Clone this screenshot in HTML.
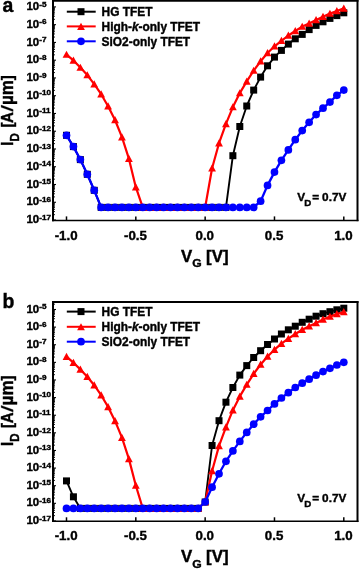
<!DOCTYPE html>
<html><head><meta charset="utf-8"><title>TFET transfer characteristics</title>
<style>
html,body{margin:0;padding:0;background:#fff;}
body{width:359px;height:569px;overflow:hidden;}
svg{display:block;will-change:transform;}
.b{font-family:"Liberation Sans",sans-serif;font-weight:bold;fill:#000;stroke:#000;stroke-width:0.4px;}
</style></head><body>
<svg width="359" height="569" viewBox="0 0 359 569">
<g>
<line x1="53.00" y1="0.00" x2="53.00" y2="221.15" stroke="#000" stroke-width="2"/>
<line x1="357.50" y1="0.00" x2="357.50" y2="221.15" stroke="#000" stroke-width="2"/>
<line x1="52.00" y1="0.90" x2="358.50" y2="0.90" stroke="#000" stroke-width="1.8"/>
<line x1="52.00" y1="220.40" x2="358.50" y2="220.40" stroke="#000" stroke-width="1.5"/>
<line x1="53.00" y1="6.90" x2="56.00" y2="6.90" stroke="#000" stroke-width="1.1"/>
<text transform="translate(26.5,10.00) scale(1.07,1)" font-size="10.7" class="b">10<tspan font-size="7.6" dy="-3.4">-5</tspan></text>
<line x1="53.00" y1="24.66" x2="56.00" y2="24.66" stroke="#000" stroke-width="1.1"/>
<text transform="translate(26.5,27.76) scale(1.07,1)" font-size="10.7" class="b">10<tspan font-size="7.6" dy="-3.4">-6</tspan></text>
<line x1="53.00" y1="19.31" x2="55.00" y2="19.31" stroke="#000" stroke-width="0.9"/>
<line x1="53.00" y1="16.19" x2="55.00" y2="16.19" stroke="#000" stroke-width="0.9"/>
<line x1="53.00" y1="13.97" x2="55.00" y2="13.97" stroke="#000" stroke-width="0.9"/>
<line x1="53.00" y1="12.25" x2="55.00" y2="12.25" stroke="#000" stroke-width="0.9"/>
<line x1="53.00" y1="10.84" x2="55.00" y2="10.84" stroke="#000" stroke-width="0.9"/>
<line x1="53.00" y1="9.65" x2="55.00" y2="9.65" stroke="#000" stroke-width="0.9"/>
<line x1="53.00" y1="8.62" x2="55.00" y2="8.62" stroke="#000" stroke-width="0.9"/>
<line x1="53.00" y1="7.71" x2="55.00" y2="7.71" stroke="#000" stroke-width="0.9"/>
<line x1="53.00" y1="42.42" x2="56.00" y2="42.42" stroke="#000" stroke-width="1.1"/>
<text transform="translate(26.5,45.52) scale(1.07,1)" font-size="10.7" class="b">10<tspan font-size="7.6" dy="-3.4">-7</tspan></text>
<line x1="53.00" y1="37.07" x2="55.00" y2="37.07" stroke="#000" stroke-width="0.9"/>
<line x1="53.00" y1="33.95" x2="55.00" y2="33.95" stroke="#000" stroke-width="0.9"/>
<line x1="53.00" y1="31.73" x2="55.00" y2="31.73" stroke="#000" stroke-width="0.9"/>
<line x1="53.00" y1="30.01" x2="55.00" y2="30.01" stroke="#000" stroke-width="0.9"/>
<line x1="53.00" y1="28.60" x2="55.00" y2="28.60" stroke="#000" stroke-width="0.9"/>
<line x1="53.00" y1="27.41" x2="55.00" y2="27.41" stroke="#000" stroke-width="0.9"/>
<line x1="53.00" y1="26.38" x2="55.00" y2="26.38" stroke="#000" stroke-width="0.9"/>
<line x1="53.00" y1="25.47" x2="55.00" y2="25.47" stroke="#000" stroke-width="0.9"/>
<line x1="53.00" y1="60.18" x2="56.00" y2="60.18" stroke="#000" stroke-width="1.1"/>
<text transform="translate(26.5,63.28) scale(1.07,1)" font-size="10.7" class="b">10<tspan font-size="7.6" dy="-3.4">-8</tspan></text>
<line x1="53.00" y1="54.83" x2="55.00" y2="54.83" stroke="#000" stroke-width="0.9"/>
<line x1="53.00" y1="51.71" x2="55.00" y2="51.71" stroke="#000" stroke-width="0.9"/>
<line x1="53.00" y1="49.49" x2="55.00" y2="49.49" stroke="#000" stroke-width="0.9"/>
<line x1="53.00" y1="47.77" x2="55.00" y2="47.77" stroke="#000" stroke-width="0.9"/>
<line x1="53.00" y1="46.36" x2="55.00" y2="46.36" stroke="#000" stroke-width="0.9"/>
<line x1="53.00" y1="45.17" x2="55.00" y2="45.17" stroke="#000" stroke-width="0.9"/>
<line x1="53.00" y1="44.14" x2="55.00" y2="44.14" stroke="#000" stroke-width="0.9"/>
<line x1="53.00" y1="43.23" x2="55.00" y2="43.23" stroke="#000" stroke-width="0.9"/>
<line x1="53.00" y1="77.94" x2="56.00" y2="77.94" stroke="#000" stroke-width="1.1"/>
<text transform="translate(26.5,81.04) scale(1.07,1)" font-size="10.7" class="b">10<tspan font-size="7.6" dy="-3.4">-9</tspan></text>
<line x1="53.00" y1="72.59" x2="55.00" y2="72.59" stroke="#000" stroke-width="0.9"/>
<line x1="53.00" y1="69.47" x2="55.00" y2="69.47" stroke="#000" stroke-width="0.9"/>
<line x1="53.00" y1="67.25" x2="55.00" y2="67.25" stroke="#000" stroke-width="0.9"/>
<line x1="53.00" y1="65.53" x2="55.00" y2="65.53" stroke="#000" stroke-width="0.9"/>
<line x1="53.00" y1="64.12" x2="55.00" y2="64.12" stroke="#000" stroke-width="0.9"/>
<line x1="53.00" y1="62.93" x2="55.00" y2="62.93" stroke="#000" stroke-width="0.9"/>
<line x1="53.00" y1="61.90" x2="55.00" y2="61.90" stroke="#000" stroke-width="0.9"/>
<line x1="53.00" y1="60.99" x2="55.00" y2="60.99" stroke="#000" stroke-width="0.9"/>
<line x1="53.00" y1="95.70" x2="56.00" y2="95.70" stroke="#000" stroke-width="1.1"/>
<text transform="translate(26.5,98.80) scale(1.07,1)" font-size="10.7" class="b">10<tspan font-size="7.6" dy="-3.4">-10</tspan></text>
<line x1="53.00" y1="90.35" x2="55.00" y2="90.35" stroke="#000" stroke-width="0.9"/>
<line x1="53.00" y1="87.23" x2="55.00" y2="87.23" stroke="#000" stroke-width="0.9"/>
<line x1="53.00" y1="85.01" x2="55.00" y2="85.01" stroke="#000" stroke-width="0.9"/>
<line x1="53.00" y1="83.29" x2="55.00" y2="83.29" stroke="#000" stroke-width="0.9"/>
<line x1="53.00" y1="81.88" x2="55.00" y2="81.88" stroke="#000" stroke-width="0.9"/>
<line x1="53.00" y1="80.69" x2="55.00" y2="80.69" stroke="#000" stroke-width="0.9"/>
<line x1="53.00" y1="79.66" x2="55.00" y2="79.66" stroke="#000" stroke-width="0.9"/>
<line x1="53.00" y1="78.75" x2="55.00" y2="78.75" stroke="#000" stroke-width="0.9"/>
<line x1="53.00" y1="113.46" x2="56.00" y2="113.46" stroke="#000" stroke-width="1.1"/>
<text transform="translate(26.5,116.56) scale(1.07,1)" font-size="10.7" class="b">10<tspan font-size="7.6" dy="-3.4">-11</tspan></text>
<line x1="53.00" y1="108.11" x2="55.00" y2="108.11" stroke="#000" stroke-width="0.9"/>
<line x1="53.00" y1="104.99" x2="55.00" y2="104.99" stroke="#000" stroke-width="0.9"/>
<line x1="53.00" y1="102.77" x2="55.00" y2="102.77" stroke="#000" stroke-width="0.9"/>
<line x1="53.00" y1="101.05" x2="55.00" y2="101.05" stroke="#000" stroke-width="0.9"/>
<line x1="53.00" y1="99.64" x2="55.00" y2="99.64" stroke="#000" stroke-width="0.9"/>
<line x1="53.00" y1="98.45" x2="55.00" y2="98.45" stroke="#000" stroke-width="0.9"/>
<line x1="53.00" y1="97.42" x2="55.00" y2="97.42" stroke="#000" stroke-width="0.9"/>
<line x1="53.00" y1="96.51" x2="55.00" y2="96.51" stroke="#000" stroke-width="0.9"/>
<line x1="53.00" y1="131.22" x2="56.00" y2="131.22" stroke="#000" stroke-width="1.1"/>
<text transform="translate(26.5,134.32) scale(1.07,1)" font-size="10.7" class="b">10<tspan font-size="7.6" dy="-3.4">-12</tspan></text>
<line x1="53.00" y1="125.87" x2="55.00" y2="125.87" stroke="#000" stroke-width="0.9"/>
<line x1="53.00" y1="122.75" x2="55.00" y2="122.75" stroke="#000" stroke-width="0.9"/>
<line x1="53.00" y1="120.53" x2="55.00" y2="120.53" stroke="#000" stroke-width="0.9"/>
<line x1="53.00" y1="118.81" x2="55.00" y2="118.81" stroke="#000" stroke-width="0.9"/>
<line x1="53.00" y1="117.40" x2="55.00" y2="117.40" stroke="#000" stroke-width="0.9"/>
<line x1="53.00" y1="116.21" x2="55.00" y2="116.21" stroke="#000" stroke-width="0.9"/>
<line x1="53.00" y1="115.18" x2="55.00" y2="115.18" stroke="#000" stroke-width="0.9"/>
<line x1="53.00" y1="114.27" x2="55.00" y2="114.27" stroke="#000" stroke-width="0.9"/>
<line x1="53.00" y1="148.98" x2="56.00" y2="148.98" stroke="#000" stroke-width="1.1"/>
<text transform="translate(26.5,152.08) scale(1.07,1)" font-size="10.7" class="b">10<tspan font-size="7.6" dy="-3.4">-13</tspan></text>
<line x1="53.00" y1="143.63" x2="55.00" y2="143.63" stroke="#000" stroke-width="0.9"/>
<line x1="53.00" y1="140.51" x2="55.00" y2="140.51" stroke="#000" stroke-width="0.9"/>
<line x1="53.00" y1="138.29" x2="55.00" y2="138.29" stroke="#000" stroke-width="0.9"/>
<line x1="53.00" y1="136.57" x2="55.00" y2="136.57" stroke="#000" stroke-width="0.9"/>
<line x1="53.00" y1="135.16" x2="55.00" y2="135.16" stroke="#000" stroke-width="0.9"/>
<line x1="53.00" y1="133.97" x2="55.00" y2="133.97" stroke="#000" stroke-width="0.9"/>
<line x1="53.00" y1="132.94" x2="55.00" y2="132.94" stroke="#000" stroke-width="0.9"/>
<line x1="53.00" y1="132.03" x2="55.00" y2="132.03" stroke="#000" stroke-width="0.9"/>
<line x1="53.00" y1="166.74" x2="56.00" y2="166.74" stroke="#000" stroke-width="1.1"/>
<text transform="translate(26.5,169.84) scale(1.07,1)" font-size="10.7" class="b">10<tspan font-size="7.6" dy="-3.4">-14</tspan></text>
<line x1="53.00" y1="161.39" x2="55.00" y2="161.39" stroke="#000" stroke-width="0.9"/>
<line x1="53.00" y1="158.27" x2="55.00" y2="158.27" stroke="#000" stroke-width="0.9"/>
<line x1="53.00" y1="156.05" x2="55.00" y2="156.05" stroke="#000" stroke-width="0.9"/>
<line x1="53.00" y1="154.33" x2="55.00" y2="154.33" stroke="#000" stroke-width="0.9"/>
<line x1="53.00" y1="152.92" x2="55.00" y2="152.92" stroke="#000" stroke-width="0.9"/>
<line x1="53.00" y1="151.73" x2="55.00" y2="151.73" stroke="#000" stroke-width="0.9"/>
<line x1="53.00" y1="150.70" x2="55.00" y2="150.70" stroke="#000" stroke-width="0.9"/>
<line x1="53.00" y1="149.79" x2="55.00" y2="149.79" stroke="#000" stroke-width="0.9"/>
<line x1="53.00" y1="184.50" x2="56.00" y2="184.50" stroke="#000" stroke-width="1.1"/>
<text transform="translate(26.5,187.60) scale(1.07,1)" font-size="10.7" class="b">10<tspan font-size="7.6" dy="-3.4">-15</tspan></text>
<line x1="53.00" y1="179.15" x2="55.00" y2="179.15" stroke="#000" stroke-width="0.9"/>
<line x1="53.00" y1="176.03" x2="55.00" y2="176.03" stroke="#000" stroke-width="0.9"/>
<line x1="53.00" y1="173.81" x2="55.00" y2="173.81" stroke="#000" stroke-width="0.9"/>
<line x1="53.00" y1="172.09" x2="55.00" y2="172.09" stroke="#000" stroke-width="0.9"/>
<line x1="53.00" y1="170.68" x2="55.00" y2="170.68" stroke="#000" stroke-width="0.9"/>
<line x1="53.00" y1="169.49" x2="55.00" y2="169.49" stroke="#000" stroke-width="0.9"/>
<line x1="53.00" y1="168.46" x2="55.00" y2="168.46" stroke="#000" stroke-width="0.9"/>
<line x1="53.00" y1="167.55" x2="55.00" y2="167.55" stroke="#000" stroke-width="0.9"/>
<line x1="53.00" y1="202.26" x2="56.00" y2="202.26" stroke="#000" stroke-width="1.1"/>
<text transform="translate(26.5,205.36) scale(1.07,1)" font-size="10.7" class="b">10<tspan font-size="7.6" dy="-3.4">-16</tspan></text>
<line x1="53.00" y1="196.91" x2="55.00" y2="196.91" stroke="#000" stroke-width="0.9"/>
<line x1="53.00" y1="193.79" x2="55.00" y2="193.79" stroke="#000" stroke-width="0.9"/>
<line x1="53.00" y1="191.57" x2="55.00" y2="191.57" stroke="#000" stroke-width="0.9"/>
<line x1="53.00" y1="189.85" x2="55.00" y2="189.85" stroke="#000" stroke-width="0.9"/>
<line x1="53.00" y1="188.44" x2="55.00" y2="188.44" stroke="#000" stroke-width="0.9"/>
<line x1="53.00" y1="187.25" x2="55.00" y2="187.25" stroke="#000" stroke-width="0.9"/>
<line x1="53.00" y1="186.22" x2="55.00" y2="186.22" stroke="#000" stroke-width="0.9"/>
<line x1="53.00" y1="185.31" x2="55.00" y2="185.31" stroke="#000" stroke-width="0.9"/>
<line x1="53.00" y1="220.02" x2="56.00" y2="220.02" stroke="#000" stroke-width="1.1"/>
<text transform="translate(26.5,223.12) scale(1.07,1)" font-size="10.7" class="b">10<tspan font-size="7.6" dy="-3.4">-17</tspan></text>
<line x1="53.00" y1="214.67" x2="55.00" y2="214.67" stroke="#000" stroke-width="0.9"/>
<line x1="53.00" y1="211.55" x2="55.00" y2="211.55" stroke="#000" stroke-width="0.9"/>
<line x1="53.00" y1="209.33" x2="55.00" y2="209.33" stroke="#000" stroke-width="0.9"/>
<line x1="53.00" y1="207.61" x2="55.00" y2="207.61" stroke="#000" stroke-width="0.9"/>
<line x1="53.00" y1="206.20" x2="55.00" y2="206.20" stroke="#000" stroke-width="0.9"/>
<line x1="53.00" y1="205.01" x2="55.00" y2="205.01" stroke="#000" stroke-width="0.9"/>
<line x1="53.00" y1="203.98" x2="55.00" y2="203.98" stroke="#000" stroke-width="0.9"/>
<line x1="53.00" y1="203.07" x2="55.00" y2="203.07" stroke="#000" stroke-width="0.9"/>
<line x1="66.50" y1="220.40" x2="66.50" y2="216.40" stroke="#000" stroke-width="1.5"/>
<text x="66.10" y="239.50" font-size="13.3" class="b" text-anchor="middle">-1.0</text>
<line x1="135.82" y1="220.40" x2="135.82" y2="216.40" stroke="#000" stroke-width="1.5"/>
<text x="135.42" y="239.50" font-size="13.3" class="b" text-anchor="middle">-0.5</text>
<line x1="205.15" y1="220.40" x2="205.15" y2="216.40" stroke="#000" stroke-width="1.5"/>
<text x="204.75" y="239.50" font-size="13.3" class="b" text-anchor="middle">0.0</text>
<line x1="274.48" y1="220.40" x2="274.48" y2="216.40" stroke="#000" stroke-width="1.5"/>
<text x="274.08" y="239.50" font-size="13.3" class="b" text-anchor="middle">0.5</text>
<line x1="343.80" y1="220.40" x2="343.80" y2="216.40" stroke="#000" stroke-width="1.5"/>
<text x="343.40" y="239.50" font-size="13.3" class="b" text-anchor="middle">1.0</text>
<polyline fill="none" stroke="#000000" stroke-width="1.90" stroke-linejoin="round" points="66.50,135.30 73.43,146.60 80.36,159.60 87.30,174.30 94.23,190.30 101.16,207.40 108.09,207.40 115.03,207.40 121.96,207.40 128.89,207.40 135.82,207.40 142.76,207.40 149.69,207.40 156.62,207.40 163.56,207.40 170.49,207.40 177.42,207.40 184.35,207.40 191.29,207.40 198.22,207.40 205.15,207.40 212.08,207.40 219.02,207.40 225.95,207.40 232.88,155.70 239.81,126.50 246.75,106.00 253.68,90.10 260.61,77.10 267.54,65.80 274.48,57.10 281.41,50.40 288.34,44.10 295.27,38.80 302.21,34.40 309.14,29.60 316.07,25.40 323.00,21.80 329.94,18.40 336.87,15.60 343.80,12.80"/>
<rect x="63.00" y="131.80" width="7.00" height="7.00" fill="#000000"/>
<rect x="69.93" y="143.10" width="7.00" height="7.00" fill="#000000"/>
<rect x="76.86" y="156.10" width="7.00" height="7.00" fill="#000000"/>
<rect x="83.80" y="170.80" width="7.00" height="7.00" fill="#000000"/>
<rect x="90.73" y="186.80" width="7.00" height="7.00" fill="#000000"/>
<rect x="97.66" y="203.90" width="7.00" height="7.00" fill="#000000"/>
<rect x="104.59" y="203.90" width="7.00" height="7.00" fill="#000000"/>
<rect x="111.53" y="203.90" width="7.00" height="7.00" fill="#000000"/>
<rect x="118.46" y="203.90" width="7.00" height="7.00" fill="#000000"/>
<rect x="125.39" y="203.90" width="7.00" height="7.00" fill="#000000"/>
<rect x="132.32" y="203.90" width="7.00" height="7.00" fill="#000000"/>
<rect x="139.26" y="203.90" width="7.00" height="7.00" fill="#000000"/>
<rect x="146.19" y="203.90" width="7.00" height="7.00" fill="#000000"/>
<rect x="153.12" y="203.90" width="7.00" height="7.00" fill="#000000"/>
<rect x="160.06" y="203.90" width="7.00" height="7.00" fill="#000000"/>
<rect x="166.99" y="203.90" width="7.00" height="7.00" fill="#000000"/>
<rect x="173.92" y="203.90" width="7.00" height="7.00" fill="#000000"/>
<rect x="180.85" y="203.90" width="7.00" height="7.00" fill="#000000"/>
<rect x="187.79" y="203.90" width="7.00" height="7.00" fill="#000000"/>
<rect x="194.72" y="203.90" width="7.00" height="7.00" fill="#000000"/>
<rect x="201.65" y="203.90" width="7.00" height="7.00" fill="#000000"/>
<rect x="208.58" y="203.90" width="7.00" height="7.00" fill="#000000"/>
<rect x="215.52" y="203.90" width="7.00" height="7.00" fill="#000000"/>
<rect x="222.45" y="203.90" width="7.00" height="7.00" fill="#000000"/>
<rect x="229.38" y="152.20" width="7.00" height="7.00" fill="#000000"/>
<rect x="236.31" y="123.00" width="7.00" height="7.00" fill="#000000"/>
<rect x="243.25" y="102.50" width="7.00" height="7.00" fill="#000000"/>
<rect x="250.18" y="86.60" width="7.00" height="7.00" fill="#000000"/>
<rect x="257.11" y="73.60" width="7.00" height="7.00" fill="#000000"/>
<rect x="264.04" y="62.30" width="7.00" height="7.00" fill="#000000"/>
<rect x="270.98" y="53.60" width="7.00" height="7.00" fill="#000000"/>
<rect x="277.91" y="46.90" width="7.00" height="7.00" fill="#000000"/>
<rect x="284.84" y="40.60" width="7.00" height="7.00" fill="#000000"/>
<rect x="291.77" y="35.30" width="7.00" height="7.00" fill="#000000"/>
<rect x="298.71" y="30.90" width="7.00" height="7.00" fill="#000000"/>
<rect x="305.64" y="26.10" width="7.00" height="7.00" fill="#000000"/>
<rect x="312.57" y="21.90" width="7.00" height="7.00" fill="#000000"/>
<rect x="319.50" y="18.30" width="7.00" height="7.00" fill="#000000"/>
<rect x="326.44" y="14.90" width="7.00" height="7.00" fill="#000000"/>
<rect x="333.37" y="12.10" width="7.00" height="7.00" fill="#000000"/>
<rect x="340.30" y="9.30" width="7.00" height="7.00" fill="#000000"/>
<polyline fill="none" stroke="#ff0000" stroke-width="2.20" stroke-linejoin="round" points="66.50,54.60 73.43,60.40 80.36,67.60 87.30,75.10 94.23,84.20 101.16,94.20 108.09,106.30 115.03,120.00 121.96,137.20 128.89,158.70 135.82,187.20 142.76,207.40 149.69,207.40 156.62,207.40 163.56,207.40 170.49,207.40 177.42,207.40 184.35,207.40 191.29,207.40 198.22,207.40 205.15,207.40 212.08,168.20 219.02,143.20 225.95,123.90 232.88,107.10 239.81,93.10 246.75,81.40 253.68,70.60 260.61,61.30 267.54,53.00 274.48,46.30 281.41,40.80 288.34,35.50 295.27,31.00 302.21,26.60 309.14,23.40 316.07,19.90 323.00,16.80 329.94,13.60 336.87,11.00 343.80,8.40"/>
<polygon points="66.50,50.64 62.60,57.84 70.40,57.84" fill="#ff0000"/>
<polygon points="73.43,56.44 69.53,63.64 77.33,63.64" fill="#ff0000"/>
<polygon points="80.36,63.64 76.46,70.84 84.26,70.84" fill="#ff0000"/>
<polygon points="87.30,71.14 83.40,78.34 91.20,78.34" fill="#ff0000"/>
<polygon points="94.23,80.24 90.33,87.44 98.13,87.44" fill="#ff0000"/>
<polygon points="101.16,90.24 97.26,97.44 105.06,97.44" fill="#ff0000"/>
<polygon points="108.09,102.34 104.19,109.54 111.99,109.54" fill="#ff0000"/>
<polygon points="115.03,116.04 111.13,123.24 118.93,123.24" fill="#ff0000"/>
<polygon points="121.96,133.24 118.06,140.44 125.86,140.44" fill="#ff0000"/>
<polygon points="128.89,154.74 124.99,161.94 132.79,161.94" fill="#ff0000"/>
<polygon points="135.82,183.24 131.92,190.44 139.72,190.44" fill="#ff0000"/>
<polygon points="142.76,203.44 138.86,210.64 146.66,210.64" fill="#ff0000"/>
<polygon points="149.69,203.44 145.79,210.64 153.59,210.64" fill="#ff0000"/>
<polygon points="156.62,203.44 152.72,210.64 160.52,210.64" fill="#ff0000"/>
<polygon points="163.56,203.44 159.66,210.64 167.46,210.64" fill="#ff0000"/>
<polygon points="170.49,203.44 166.59,210.64 174.39,210.64" fill="#ff0000"/>
<polygon points="177.42,203.44 173.52,210.64 181.32,210.64" fill="#ff0000"/>
<polygon points="184.35,203.44 180.45,210.64 188.25,210.64" fill="#ff0000"/>
<polygon points="191.29,203.44 187.39,210.64 195.19,210.64" fill="#ff0000"/>
<polygon points="198.22,203.44 194.32,210.64 202.12,210.64" fill="#ff0000"/>
<polygon points="205.15,203.44 201.25,210.64 209.05,210.64" fill="#ff0000"/>
<polygon points="212.08,164.24 208.18,171.44 215.98,171.44" fill="#ff0000"/>
<polygon points="219.02,139.24 215.12,146.44 222.92,146.44" fill="#ff0000"/>
<polygon points="225.95,119.94 222.05,127.14 229.85,127.14" fill="#ff0000"/>
<polygon points="232.88,103.14 228.98,110.34 236.78,110.34" fill="#ff0000"/>
<polygon points="239.81,89.14 235.91,96.34 243.71,96.34" fill="#ff0000"/>
<polygon points="246.75,77.44 242.85,84.64 250.65,84.64" fill="#ff0000"/>
<polygon points="253.68,66.64 249.78,73.84 257.58,73.84" fill="#ff0000"/>
<polygon points="260.61,57.34 256.71,64.54 264.51,64.54" fill="#ff0000"/>
<polygon points="267.54,49.04 263.64,56.24 271.44,56.24" fill="#ff0000"/>
<polygon points="274.48,42.34 270.58,49.54 278.38,49.54" fill="#ff0000"/>
<polygon points="281.41,36.84 277.51,44.04 285.31,44.04" fill="#ff0000"/>
<polygon points="288.34,31.54 284.44,38.74 292.24,38.74" fill="#ff0000"/>
<polygon points="295.27,27.04 291.37,34.24 299.17,34.24" fill="#ff0000"/>
<polygon points="302.21,22.64 298.31,29.84 306.11,29.84" fill="#ff0000"/>
<polygon points="309.14,19.44 305.24,26.64 313.04,26.64" fill="#ff0000"/>
<polygon points="316.07,15.94 312.17,23.14 319.97,23.14" fill="#ff0000"/>
<polygon points="323.00,12.84 319.10,20.04 326.90,20.04" fill="#ff0000"/>
<polygon points="329.94,9.64 326.04,16.84 333.84,16.84" fill="#ff0000"/>
<polygon points="336.87,7.04 332.97,14.24 340.77,14.24" fill="#ff0000"/>
<polygon points="343.80,4.44 339.90,11.64 347.70,11.64" fill="#ff0000"/>
<polyline fill="none" stroke="#0000ff" stroke-width="2.30" stroke-linejoin="round" points="66.50,135.30 73.43,146.60 80.36,159.60 87.30,174.30 94.23,190.30 101.16,207.40 108.09,207.40 115.03,207.40 121.96,207.40 128.89,207.40 135.82,207.40 142.76,207.40 149.69,207.40 156.62,207.40 163.56,207.40 170.49,207.40 177.42,207.40 184.35,207.40 191.29,207.40 198.22,207.40 205.15,207.40 212.08,207.40 219.02,207.40 225.95,207.40 232.88,207.40 239.81,207.40 246.75,207.40 253.68,207.40 260.61,201.20 267.54,185.40 274.48,172.10 281.41,160.30 288.34,149.90 295.27,139.70 302.21,130.60 309.14,122.30 316.07,114.60 323.00,108.20 329.94,102.10 336.87,95.30 343.80,90.10"/>
<circle cx="66.50" cy="135.30" r="3.85" fill="#0000ff"/>
<circle cx="73.43" cy="146.60" r="3.85" fill="#0000ff"/>
<circle cx="80.36" cy="159.60" r="3.85" fill="#0000ff"/>
<circle cx="87.30" cy="174.30" r="3.85" fill="#0000ff"/>
<circle cx="94.23" cy="190.30" r="3.85" fill="#0000ff"/>
<circle cx="101.16" cy="207.40" r="3.85" fill="#0000ff"/>
<circle cx="108.09" cy="207.40" r="3.85" fill="#0000ff"/>
<circle cx="115.03" cy="207.40" r="3.85" fill="#0000ff"/>
<circle cx="121.96" cy="207.40" r="3.85" fill="#0000ff"/>
<circle cx="128.89" cy="207.40" r="3.85" fill="#0000ff"/>
<circle cx="135.82" cy="207.40" r="3.85" fill="#0000ff"/>
<circle cx="142.76" cy="207.40" r="3.85" fill="#0000ff"/>
<circle cx="149.69" cy="207.40" r="3.85" fill="#0000ff"/>
<circle cx="156.62" cy="207.40" r="3.85" fill="#0000ff"/>
<circle cx="163.56" cy="207.40" r="3.85" fill="#0000ff"/>
<circle cx="170.49" cy="207.40" r="3.85" fill="#0000ff"/>
<circle cx="177.42" cy="207.40" r="3.85" fill="#0000ff"/>
<circle cx="184.35" cy="207.40" r="3.85" fill="#0000ff"/>
<circle cx="191.29" cy="207.40" r="3.85" fill="#0000ff"/>
<circle cx="198.22" cy="207.40" r="3.85" fill="#0000ff"/>
<circle cx="205.15" cy="207.40" r="3.85" fill="#0000ff"/>
<circle cx="212.08" cy="207.40" r="3.85" fill="#0000ff"/>
<circle cx="219.02" cy="207.40" r="3.85" fill="#0000ff"/>
<circle cx="225.95" cy="207.40" r="3.85" fill="#0000ff"/>
<circle cx="232.88" cy="207.40" r="3.85" fill="#0000ff"/>
<circle cx="239.81" cy="207.40" r="3.85" fill="#0000ff"/>
<circle cx="246.75" cy="207.40" r="3.85" fill="#0000ff"/>
<circle cx="253.68" cy="207.40" r="3.85" fill="#0000ff"/>
<circle cx="260.61" cy="201.20" r="3.85" fill="#0000ff"/>
<circle cx="267.54" cy="185.40" r="3.85" fill="#0000ff"/>
<circle cx="274.48" cy="172.10" r="3.85" fill="#0000ff"/>
<circle cx="281.41" cy="160.30" r="3.85" fill="#0000ff"/>
<circle cx="288.34" cy="149.90" r="3.85" fill="#0000ff"/>
<circle cx="295.27" cy="139.70" r="3.85" fill="#0000ff"/>
<circle cx="302.21" cy="130.60" r="3.85" fill="#0000ff"/>
<circle cx="309.14" cy="122.30" r="3.85" fill="#0000ff"/>
<circle cx="316.07" cy="114.60" r="3.85" fill="#0000ff"/>
<circle cx="323.00" cy="108.20" r="3.85" fill="#0000ff"/>
<circle cx="329.94" cy="102.10" r="3.85" fill="#0000ff"/>
<circle cx="336.87" cy="95.30" r="3.85" fill="#0000ff"/>
<circle cx="343.80" cy="90.10" r="3.85" fill="#0000ff"/>
<line x1="66.8" y1="11.70" x2="95.7" y2="11.70" stroke="#000000" stroke-width="2"/>
<rect x="77.50" y="8.20" width="7.00" height="7.00" fill="#000000"/>
<text x="101.6" y="16.00" font-size="11.9" class="b">HG TFET</text>
<line x1="66.8" y1="26.40" x2="95.7" y2="26.40" stroke="#ff0000" stroke-width="2"/>
<polygon points="81.00,22.74 77.10,29.94 84.90,29.94" fill="#ff0000"/>
<text x="101.6" y="30.70" font-size="11.9" class="b">High-<tspan font-style="italic">k</tspan>-only TFET</text>
<line x1="66.8" y1="41.30" x2="95.7" y2="41.30" stroke="#0000ff" stroke-width="2"/>
<circle cx="81.00" cy="41.30" r="3.85" fill="#0000ff"/>
<text x="101.6" y="45.60" font-size="11.9" class="b">SiO2-only TFET</text>
<text y="201.00" font-size="11.8" class="b"><tspan x="297.2">V</tspan><tspan x="304.3" font-size="9.7" dy="4.5">D</tspan><tspan x="312.2" dy="-4.5">=</tspan><tspan x="322.1">0.7V</tspan></text>
<text x="2.6" y="11.70" font-size="19.4" class="b">a</text>
<g transform="translate(181.1,261.50) scale(1.065,1)"><text y="0" font-size="15.8" class="b"><tspan x="0">V</tspan><tspan x="10.4" dy="5.4" font-size="11.4">G</tspan><tspan x="23.5" dy="-5.4">[V]</tspan></text></g>
<g transform="translate(13.0,145.40) rotate(-90) scale(1,1.08)"><text font-size="15" class="b" y="0"><tspan x="-0.3">I</tspan><tspan x="3.9" dy="5.3" font-size="11.5">D</tspan><tspan x="17.8" dy="-5.3">[</tspan><tspan x="22.5">A</tspan><tspan x="40.3" font-size="17">µ</tspan><tspan x="50.2" font-size="17">m</tspan><tspan x="65.2">]</tspan></text><polygon points="33.8,0.1 35.9,0.1 40.3,-11 38.2,-11" fill="#000" stroke="#000" stroke-width="0.3"/></g>
<line x1="53.00" y1="301.10" x2="53.00" y2="522.05" stroke="#000" stroke-width="2"/>
<line x1="357.50" y1="301.10" x2="357.50" y2="522.05" stroke="#000" stroke-width="2"/>
<line x1="52.00" y1="302.00" x2="358.50" y2="302.00" stroke="#000" stroke-width="1.8"/>
<line x1="52.00" y1="521.30" x2="358.50" y2="521.30" stroke="#000" stroke-width="1.5"/>
<line x1="53.00" y1="309.50" x2="56.00" y2="309.50" stroke="#000" stroke-width="1.1"/>
<text transform="translate(26.5,312.60) scale(1.07,1)" font-size="10.7" class="b">10<tspan font-size="7.6" dy="-3.4">-5</tspan></text>
<line x1="53.00" y1="304.20" x2="55.00" y2="304.20" stroke="#000" stroke-width="0.9"/>
<line x1="53.00" y1="327.12" x2="56.00" y2="327.12" stroke="#000" stroke-width="1.1"/>
<text transform="translate(26.5,330.22) scale(1.07,1)" font-size="10.7" class="b">10<tspan font-size="7.6" dy="-3.4">-6</tspan></text>
<line x1="53.00" y1="321.82" x2="55.00" y2="321.82" stroke="#000" stroke-width="0.9"/>
<line x1="53.00" y1="318.71" x2="55.00" y2="318.71" stroke="#000" stroke-width="0.9"/>
<line x1="53.00" y1="316.51" x2="55.00" y2="316.51" stroke="#000" stroke-width="0.9"/>
<line x1="53.00" y1="314.80" x2="55.00" y2="314.80" stroke="#000" stroke-width="0.9"/>
<line x1="53.00" y1="313.41" x2="55.00" y2="313.41" stroke="#000" stroke-width="0.9"/>
<line x1="53.00" y1="312.23" x2="55.00" y2="312.23" stroke="#000" stroke-width="0.9"/>
<line x1="53.00" y1="311.21" x2="55.00" y2="311.21" stroke="#000" stroke-width="0.9"/>
<line x1="53.00" y1="310.31" x2="55.00" y2="310.31" stroke="#000" stroke-width="0.9"/>
<line x1="53.00" y1="344.74" x2="56.00" y2="344.74" stroke="#000" stroke-width="1.1"/>
<text transform="translate(26.5,347.84) scale(1.07,1)" font-size="10.7" class="b">10<tspan font-size="7.6" dy="-3.4">-7</tspan></text>
<line x1="53.00" y1="339.44" x2="55.00" y2="339.44" stroke="#000" stroke-width="0.9"/>
<line x1="53.00" y1="336.33" x2="55.00" y2="336.33" stroke="#000" stroke-width="0.9"/>
<line x1="53.00" y1="334.13" x2="55.00" y2="334.13" stroke="#000" stroke-width="0.9"/>
<line x1="53.00" y1="332.42" x2="55.00" y2="332.42" stroke="#000" stroke-width="0.9"/>
<line x1="53.00" y1="331.03" x2="55.00" y2="331.03" stroke="#000" stroke-width="0.9"/>
<line x1="53.00" y1="329.85" x2="55.00" y2="329.85" stroke="#000" stroke-width="0.9"/>
<line x1="53.00" y1="328.83" x2="55.00" y2="328.83" stroke="#000" stroke-width="0.9"/>
<line x1="53.00" y1="327.93" x2="55.00" y2="327.93" stroke="#000" stroke-width="0.9"/>
<line x1="53.00" y1="362.36" x2="56.00" y2="362.36" stroke="#000" stroke-width="1.1"/>
<text transform="translate(26.5,365.46) scale(1.07,1)" font-size="10.7" class="b">10<tspan font-size="7.6" dy="-3.4">-8</tspan></text>
<line x1="53.00" y1="357.06" x2="55.00" y2="357.06" stroke="#000" stroke-width="0.9"/>
<line x1="53.00" y1="353.95" x2="55.00" y2="353.95" stroke="#000" stroke-width="0.9"/>
<line x1="53.00" y1="351.75" x2="55.00" y2="351.75" stroke="#000" stroke-width="0.9"/>
<line x1="53.00" y1="350.04" x2="55.00" y2="350.04" stroke="#000" stroke-width="0.9"/>
<line x1="53.00" y1="348.65" x2="55.00" y2="348.65" stroke="#000" stroke-width="0.9"/>
<line x1="53.00" y1="347.47" x2="55.00" y2="347.47" stroke="#000" stroke-width="0.9"/>
<line x1="53.00" y1="346.45" x2="55.00" y2="346.45" stroke="#000" stroke-width="0.9"/>
<line x1="53.00" y1="345.55" x2="55.00" y2="345.55" stroke="#000" stroke-width="0.9"/>
<line x1="53.00" y1="379.98" x2="56.00" y2="379.98" stroke="#000" stroke-width="1.1"/>
<text transform="translate(26.5,383.08) scale(1.07,1)" font-size="10.7" class="b">10<tspan font-size="7.6" dy="-3.4">-9</tspan></text>
<line x1="53.00" y1="374.68" x2="55.00" y2="374.68" stroke="#000" stroke-width="0.9"/>
<line x1="53.00" y1="371.57" x2="55.00" y2="371.57" stroke="#000" stroke-width="0.9"/>
<line x1="53.00" y1="369.37" x2="55.00" y2="369.37" stroke="#000" stroke-width="0.9"/>
<line x1="53.00" y1="367.66" x2="55.00" y2="367.66" stroke="#000" stroke-width="0.9"/>
<line x1="53.00" y1="366.27" x2="55.00" y2="366.27" stroke="#000" stroke-width="0.9"/>
<line x1="53.00" y1="365.09" x2="55.00" y2="365.09" stroke="#000" stroke-width="0.9"/>
<line x1="53.00" y1="364.07" x2="55.00" y2="364.07" stroke="#000" stroke-width="0.9"/>
<line x1="53.00" y1="363.17" x2="55.00" y2="363.17" stroke="#000" stroke-width="0.9"/>
<line x1="53.00" y1="397.60" x2="56.00" y2="397.60" stroke="#000" stroke-width="1.1"/>
<text transform="translate(26.5,400.70) scale(1.07,1)" font-size="10.7" class="b">10<tspan font-size="7.6" dy="-3.4">-10</tspan></text>
<line x1="53.00" y1="392.30" x2="55.00" y2="392.30" stroke="#000" stroke-width="0.9"/>
<line x1="53.00" y1="389.19" x2="55.00" y2="389.19" stroke="#000" stroke-width="0.9"/>
<line x1="53.00" y1="386.99" x2="55.00" y2="386.99" stroke="#000" stroke-width="0.9"/>
<line x1="53.00" y1="385.28" x2="55.00" y2="385.28" stroke="#000" stroke-width="0.9"/>
<line x1="53.00" y1="383.89" x2="55.00" y2="383.89" stroke="#000" stroke-width="0.9"/>
<line x1="53.00" y1="382.71" x2="55.00" y2="382.71" stroke="#000" stroke-width="0.9"/>
<line x1="53.00" y1="381.69" x2="55.00" y2="381.69" stroke="#000" stroke-width="0.9"/>
<line x1="53.00" y1="380.79" x2="55.00" y2="380.79" stroke="#000" stroke-width="0.9"/>
<line x1="53.00" y1="415.22" x2="56.00" y2="415.22" stroke="#000" stroke-width="1.1"/>
<text transform="translate(26.5,418.32) scale(1.07,1)" font-size="10.7" class="b">10<tspan font-size="7.6" dy="-3.4">-11</tspan></text>
<line x1="53.00" y1="409.92" x2="55.00" y2="409.92" stroke="#000" stroke-width="0.9"/>
<line x1="53.00" y1="406.81" x2="55.00" y2="406.81" stroke="#000" stroke-width="0.9"/>
<line x1="53.00" y1="404.61" x2="55.00" y2="404.61" stroke="#000" stroke-width="0.9"/>
<line x1="53.00" y1="402.90" x2="55.00" y2="402.90" stroke="#000" stroke-width="0.9"/>
<line x1="53.00" y1="401.51" x2="55.00" y2="401.51" stroke="#000" stroke-width="0.9"/>
<line x1="53.00" y1="400.33" x2="55.00" y2="400.33" stroke="#000" stroke-width="0.9"/>
<line x1="53.00" y1="399.31" x2="55.00" y2="399.31" stroke="#000" stroke-width="0.9"/>
<line x1="53.00" y1="398.41" x2="55.00" y2="398.41" stroke="#000" stroke-width="0.9"/>
<line x1="53.00" y1="432.84" x2="56.00" y2="432.84" stroke="#000" stroke-width="1.1"/>
<text transform="translate(26.5,435.94) scale(1.07,1)" font-size="10.7" class="b">10<tspan font-size="7.6" dy="-3.4">-12</tspan></text>
<line x1="53.00" y1="427.54" x2="55.00" y2="427.54" stroke="#000" stroke-width="0.9"/>
<line x1="53.00" y1="424.43" x2="55.00" y2="424.43" stroke="#000" stroke-width="0.9"/>
<line x1="53.00" y1="422.23" x2="55.00" y2="422.23" stroke="#000" stroke-width="0.9"/>
<line x1="53.00" y1="420.52" x2="55.00" y2="420.52" stroke="#000" stroke-width="0.9"/>
<line x1="53.00" y1="419.13" x2="55.00" y2="419.13" stroke="#000" stroke-width="0.9"/>
<line x1="53.00" y1="417.95" x2="55.00" y2="417.95" stroke="#000" stroke-width="0.9"/>
<line x1="53.00" y1="416.93" x2="55.00" y2="416.93" stroke="#000" stroke-width="0.9"/>
<line x1="53.00" y1="416.03" x2="55.00" y2="416.03" stroke="#000" stroke-width="0.9"/>
<line x1="53.00" y1="450.46" x2="56.00" y2="450.46" stroke="#000" stroke-width="1.1"/>
<text transform="translate(26.5,453.56) scale(1.07,1)" font-size="10.7" class="b">10<tspan font-size="7.6" dy="-3.4">-13</tspan></text>
<line x1="53.00" y1="445.16" x2="55.00" y2="445.16" stroke="#000" stroke-width="0.9"/>
<line x1="53.00" y1="442.05" x2="55.00" y2="442.05" stroke="#000" stroke-width="0.9"/>
<line x1="53.00" y1="439.85" x2="55.00" y2="439.85" stroke="#000" stroke-width="0.9"/>
<line x1="53.00" y1="438.14" x2="55.00" y2="438.14" stroke="#000" stroke-width="0.9"/>
<line x1="53.00" y1="436.75" x2="55.00" y2="436.75" stroke="#000" stroke-width="0.9"/>
<line x1="53.00" y1="435.57" x2="55.00" y2="435.57" stroke="#000" stroke-width="0.9"/>
<line x1="53.00" y1="434.55" x2="55.00" y2="434.55" stroke="#000" stroke-width="0.9"/>
<line x1="53.00" y1="433.65" x2="55.00" y2="433.65" stroke="#000" stroke-width="0.9"/>
<line x1="53.00" y1="468.08" x2="56.00" y2="468.08" stroke="#000" stroke-width="1.1"/>
<text transform="translate(26.5,471.18) scale(1.07,1)" font-size="10.7" class="b">10<tspan font-size="7.6" dy="-3.4">-14</tspan></text>
<line x1="53.00" y1="462.78" x2="55.00" y2="462.78" stroke="#000" stroke-width="0.9"/>
<line x1="53.00" y1="459.67" x2="55.00" y2="459.67" stroke="#000" stroke-width="0.9"/>
<line x1="53.00" y1="457.47" x2="55.00" y2="457.47" stroke="#000" stroke-width="0.9"/>
<line x1="53.00" y1="455.76" x2="55.00" y2="455.76" stroke="#000" stroke-width="0.9"/>
<line x1="53.00" y1="454.37" x2="55.00" y2="454.37" stroke="#000" stroke-width="0.9"/>
<line x1="53.00" y1="453.19" x2="55.00" y2="453.19" stroke="#000" stroke-width="0.9"/>
<line x1="53.00" y1="452.17" x2="55.00" y2="452.17" stroke="#000" stroke-width="0.9"/>
<line x1="53.00" y1="451.27" x2="55.00" y2="451.27" stroke="#000" stroke-width="0.9"/>
<line x1="53.00" y1="485.70" x2="56.00" y2="485.70" stroke="#000" stroke-width="1.1"/>
<text transform="translate(26.5,488.80) scale(1.07,1)" font-size="10.7" class="b">10<tspan font-size="7.6" dy="-3.4">-15</tspan></text>
<line x1="53.00" y1="480.40" x2="55.00" y2="480.40" stroke="#000" stroke-width="0.9"/>
<line x1="53.00" y1="477.29" x2="55.00" y2="477.29" stroke="#000" stroke-width="0.9"/>
<line x1="53.00" y1="475.09" x2="55.00" y2="475.09" stroke="#000" stroke-width="0.9"/>
<line x1="53.00" y1="473.38" x2="55.00" y2="473.38" stroke="#000" stroke-width="0.9"/>
<line x1="53.00" y1="471.99" x2="55.00" y2="471.99" stroke="#000" stroke-width="0.9"/>
<line x1="53.00" y1="470.81" x2="55.00" y2="470.81" stroke="#000" stroke-width="0.9"/>
<line x1="53.00" y1="469.79" x2="55.00" y2="469.79" stroke="#000" stroke-width="0.9"/>
<line x1="53.00" y1="468.89" x2="55.00" y2="468.89" stroke="#000" stroke-width="0.9"/>
<line x1="53.00" y1="503.32" x2="56.00" y2="503.32" stroke="#000" stroke-width="1.1"/>
<text transform="translate(26.5,506.42) scale(1.07,1)" font-size="10.7" class="b">10<tspan font-size="7.6" dy="-3.4">-16</tspan></text>
<line x1="53.00" y1="498.02" x2="55.00" y2="498.02" stroke="#000" stroke-width="0.9"/>
<line x1="53.00" y1="494.91" x2="55.00" y2="494.91" stroke="#000" stroke-width="0.9"/>
<line x1="53.00" y1="492.71" x2="55.00" y2="492.71" stroke="#000" stroke-width="0.9"/>
<line x1="53.00" y1="491.00" x2="55.00" y2="491.00" stroke="#000" stroke-width="0.9"/>
<line x1="53.00" y1="489.61" x2="55.00" y2="489.61" stroke="#000" stroke-width="0.9"/>
<line x1="53.00" y1="488.43" x2="55.00" y2="488.43" stroke="#000" stroke-width="0.9"/>
<line x1="53.00" y1="487.41" x2="55.00" y2="487.41" stroke="#000" stroke-width="0.9"/>
<line x1="53.00" y1="486.51" x2="55.00" y2="486.51" stroke="#000" stroke-width="0.9"/>
<line x1="53.00" y1="520.94" x2="56.00" y2="520.94" stroke="#000" stroke-width="1.1"/>
<text transform="translate(26.5,524.04) scale(1.07,1)" font-size="10.7" class="b">10<tspan font-size="7.6" dy="-3.4">-17</tspan></text>
<line x1="53.00" y1="515.64" x2="55.00" y2="515.64" stroke="#000" stroke-width="0.9"/>
<line x1="53.00" y1="512.53" x2="55.00" y2="512.53" stroke="#000" stroke-width="0.9"/>
<line x1="53.00" y1="510.33" x2="55.00" y2="510.33" stroke="#000" stroke-width="0.9"/>
<line x1="53.00" y1="508.62" x2="55.00" y2="508.62" stroke="#000" stroke-width="0.9"/>
<line x1="53.00" y1="507.23" x2="55.00" y2="507.23" stroke="#000" stroke-width="0.9"/>
<line x1="53.00" y1="506.05" x2="55.00" y2="506.05" stroke="#000" stroke-width="0.9"/>
<line x1="53.00" y1="505.03" x2="55.00" y2="505.03" stroke="#000" stroke-width="0.9"/>
<line x1="53.00" y1="504.13" x2="55.00" y2="504.13" stroke="#000" stroke-width="0.9"/>
<line x1="66.50" y1="521.30" x2="66.50" y2="517.30" stroke="#000" stroke-width="1.5"/>
<text x="66.10" y="540.10" font-size="13.3" class="b" text-anchor="middle">-1.0</text>
<line x1="135.82" y1="521.30" x2="135.82" y2="517.30" stroke="#000" stroke-width="1.5"/>
<text x="135.42" y="540.10" font-size="13.3" class="b" text-anchor="middle">-0.5</text>
<line x1="205.15" y1="521.30" x2="205.15" y2="517.30" stroke="#000" stroke-width="1.5"/>
<text x="204.75" y="540.10" font-size="13.3" class="b" text-anchor="middle">0.0</text>
<line x1="274.48" y1="521.30" x2="274.48" y2="517.30" stroke="#000" stroke-width="1.5"/>
<text x="274.08" y="540.10" font-size="13.3" class="b" text-anchor="middle">0.5</text>
<line x1="343.80" y1="521.30" x2="343.80" y2="517.30" stroke="#000" stroke-width="1.5"/>
<text x="343.40" y="540.10" font-size="13.3" class="b" text-anchor="middle">1.0</text>
<polyline fill="none" stroke="#000000" stroke-width="1.90" stroke-linejoin="round" points="66.50,480.90 73.43,496.80 80.36,508.40 87.30,508.40 94.23,508.40 101.16,508.40 108.09,508.40 115.03,508.40 121.96,508.40 128.89,508.40 135.82,508.40 142.76,508.40 149.69,508.40 156.62,508.40 163.56,508.40 170.49,508.40 177.42,508.40 184.35,508.40 191.29,508.40 198.22,508.40 205.15,502.00 212.08,445.50 219.02,420.70 225.95,402.20 232.88,387.50 239.81,375.10 246.75,365.60 253.68,357.50 260.61,350.70 267.54,344.50 274.48,339.00 281.41,334.00 288.34,329.80 295.27,326.20 302.21,322.30 309.14,319.20 316.07,316.20 323.00,313.70 329.94,311.70 336.87,309.80 343.80,308.20"/>
<rect x="63.00" y="477.40" width="7.00" height="7.00" fill="#000000"/>
<rect x="69.93" y="493.30" width="7.00" height="7.00" fill="#000000"/>
<rect x="76.86" y="504.90" width="7.00" height="7.00" fill="#000000"/>
<rect x="83.80" y="504.90" width="7.00" height="7.00" fill="#000000"/>
<rect x="90.73" y="504.90" width="7.00" height="7.00" fill="#000000"/>
<rect x="97.66" y="504.90" width="7.00" height="7.00" fill="#000000"/>
<rect x="104.59" y="504.90" width="7.00" height="7.00" fill="#000000"/>
<rect x="111.53" y="504.90" width="7.00" height="7.00" fill="#000000"/>
<rect x="118.46" y="504.90" width="7.00" height="7.00" fill="#000000"/>
<rect x="125.39" y="504.90" width="7.00" height="7.00" fill="#000000"/>
<rect x="132.32" y="504.90" width="7.00" height="7.00" fill="#000000"/>
<rect x="139.26" y="504.90" width="7.00" height="7.00" fill="#000000"/>
<rect x="146.19" y="504.90" width="7.00" height="7.00" fill="#000000"/>
<rect x="153.12" y="504.90" width="7.00" height="7.00" fill="#000000"/>
<rect x="160.06" y="504.90" width="7.00" height="7.00" fill="#000000"/>
<rect x="166.99" y="504.90" width="7.00" height="7.00" fill="#000000"/>
<rect x="173.92" y="504.90" width="7.00" height="7.00" fill="#000000"/>
<rect x="180.85" y="504.90" width="7.00" height="7.00" fill="#000000"/>
<rect x="187.79" y="504.90" width="7.00" height="7.00" fill="#000000"/>
<rect x="194.72" y="504.90" width="7.00" height="7.00" fill="#000000"/>
<rect x="201.65" y="498.50" width="7.00" height="7.00" fill="#000000"/>
<rect x="208.58" y="442.00" width="7.00" height="7.00" fill="#000000"/>
<rect x="215.52" y="417.20" width="7.00" height="7.00" fill="#000000"/>
<rect x="222.45" y="398.70" width="7.00" height="7.00" fill="#000000"/>
<rect x="229.38" y="384.00" width="7.00" height="7.00" fill="#000000"/>
<rect x="236.31" y="371.60" width="7.00" height="7.00" fill="#000000"/>
<rect x="243.25" y="362.10" width="7.00" height="7.00" fill="#000000"/>
<rect x="250.18" y="354.00" width="7.00" height="7.00" fill="#000000"/>
<rect x="257.11" y="347.20" width="7.00" height="7.00" fill="#000000"/>
<rect x="264.04" y="341.00" width="7.00" height="7.00" fill="#000000"/>
<rect x="270.98" y="335.50" width="7.00" height="7.00" fill="#000000"/>
<rect x="277.91" y="330.50" width="7.00" height="7.00" fill="#000000"/>
<rect x="284.84" y="326.30" width="7.00" height="7.00" fill="#000000"/>
<rect x="291.77" y="322.70" width="7.00" height="7.00" fill="#000000"/>
<rect x="298.71" y="318.80" width="7.00" height="7.00" fill="#000000"/>
<rect x="305.64" y="315.70" width="7.00" height="7.00" fill="#000000"/>
<rect x="312.57" y="312.70" width="7.00" height="7.00" fill="#000000"/>
<rect x="319.50" y="310.20" width="7.00" height="7.00" fill="#000000"/>
<rect x="326.44" y="308.20" width="7.00" height="7.00" fill="#000000"/>
<rect x="333.37" y="306.30" width="7.00" height="7.00" fill="#000000"/>
<rect x="340.30" y="304.70" width="7.00" height="7.00" fill="#000000"/>
<polyline fill="none" stroke="#ff0000" stroke-width="2.20" stroke-linejoin="round" points="66.50,356.70 73.43,362.70 80.36,369.40 87.30,376.80 94.23,385.20 101.16,395.20 108.09,406.90 115.03,420.90 121.96,437.70 128.89,458.90 135.82,485.50 142.76,508.40 149.69,508.40 156.62,508.40 163.56,508.40 170.49,508.40 177.42,508.40 184.35,508.40 191.29,508.40 198.22,508.40 205.15,502.00 212.08,471.00 219.02,445.90 225.95,427.20 232.88,410.20 239.81,396.40 246.75,384.60 253.68,373.80 260.61,364.50 267.54,356.50 274.48,349.70 281.41,343.70 288.34,338.70 295.27,334.00 302.21,329.80 309.14,326.20 316.07,322.90 323.00,319.50 329.94,316.60 336.87,314.00 343.80,312.00"/>
<polygon points="66.50,352.74 62.60,359.94 70.40,359.94" fill="#ff0000"/>
<polygon points="73.43,358.74 69.53,365.94 77.33,365.94" fill="#ff0000"/>
<polygon points="80.36,365.44 76.46,372.64 84.26,372.64" fill="#ff0000"/>
<polygon points="87.30,372.84 83.40,380.04 91.20,380.04" fill="#ff0000"/>
<polygon points="94.23,381.24 90.33,388.44 98.13,388.44" fill="#ff0000"/>
<polygon points="101.16,391.24 97.26,398.44 105.06,398.44" fill="#ff0000"/>
<polygon points="108.09,402.94 104.19,410.14 111.99,410.14" fill="#ff0000"/>
<polygon points="115.03,416.94 111.13,424.14 118.93,424.14" fill="#ff0000"/>
<polygon points="121.96,433.74 118.06,440.94 125.86,440.94" fill="#ff0000"/>
<polygon points="128.89,454.94 124.99,462.14 132.79,462.14" fill="#ff0000"/>
<polygon points="135.82,481.54 131.92,488.74 139.72,488.74" fill="#ff0000"/>
<polygon points="142.76,504.44 138.86,511.64 146.66,511.64" fill="#ff0000"/>
<polygon points="149.69,504.44 145.79,511.64 153.59,511.64" fill="#ff0000"/>
<polygon points="156.62,504.44 152.72,511.64 160.52,511.64" fill="#ff0000"/>
<polygon points="163.56,504.44 159.66,511.64 167.46,511.64" fill="#ff0000"/>
<polygon points="170.49,504.44 166.59,511.64 174.39,511.64" fill="#ff0000"/>
<polygon points="177.42,504.44 173.52,511.64 181.32,511.64" fill="#ff0000"/>
<polygon points="184.35,504.44 180.45,511.64 188.25,511.64" fill="#ff0000"/>
<polygon points="191.29,504.44 187.39,511.64 195.19,511.64" fill="#ff0000"/>
<polygon points="198.22,504.44 194.32,511.64 202.12,511.64" fill="#ff0000"/>
<polygon points="205.15,498.04 201.25,505.24 209.05,505.24" fill="#ff0000"/>
<polygon points="212.08,467.04 208.18,474.24 215.98,474.24" fill="#ff0000"/>
<polygon points="219.02,441.94 215.12,449.14 222.92,449.14" fill="#ff0000"/>
<polygon points="225.95,423.24 222.05,430.44 229.85,430.44" fill="#ff0000"/>
<polygon points="232.88,406.24 228.98,413.44 236.78,413.44" fill="#ff0000"/>
<polygon points="239.81,392.44 235.91,399.64 243.71,399.64" fill="#ff0000"/>
<polygon points="246.75,380.64 242.85,387.84 250.65,387.84" fill="#ff0000"/>
<polygon points="253.68,369.84 249.78,377.04 257.58,377.04" fill="#ff0000"/>
<polygon points="260.61,360.54 256.71,367.74 264.51,367.74" fill="#ff0000"/>
<polygon points="267.54,352.54 263.64,359.74 271.44,359.74" fill="#ff0000"/>
<polygon points="274.48,345.74 270.58,352.94 278.38,352.94" fill="#ff0000"/>
<polygon points="281.41,339.74 277.51,346.94 285.31,346.94" fill="#ff0000"/>
<polygon points="288.34,334.74 284.44,341.94 292.24,341.94" fill="#ff0000"/>
<polygon points="295.27,330.04 291.37,337.24 299.17,337.24" fill="#ff0000"/>
<polygon points="302.21,325.84 298.31,333.04 306.11,333.04" fill="#ff0000"/>
<polygon points="309.14,322.24 305.24,329.44 313.04,329.44" fill="#ff0000"/>
<polygon points="316.07,318.94 312.17,326.14 319.97,326.14" fill="#ff0000"/>
<polygon points="323.00,315.54 319.10,322.74 326.90,322.74" fill="#ff0000"/>
<polygon points="329.94,312.64 326.04,319.84 333.84,319.84" fill="#ff0000"/>
<polygon points="336.87,310.04 332.97,317.24 340.77,317.24" fill="#ff0000"/>
<polygon points="343.80,308.04 339.90,315.24 347.70,315.24" fill="#ff0000"/>
<polyline fill="none" stroke="#0000ff" stroke-width="2.30" stroke-linejoin="round" points="66.50,508.40 73.43,508.40 80.36,508.40 87.30,508.40 94.23,508.40 101.16,508.40 108.09,508.40 115.03,508.40 121.96,508.40 128.89,508.40 135.82,508.40 142.76,508.40 149.69,508.40 156.62,508.40 163.56,508.40 170.49,508.40 177.42,508.40 184.35,508.40 191.29,508.40 198.22,508.40 205.15,502.00 212.08,487.20 219.02,473.80 225.95,461.30 232.88,450.90 239.81,441.40 246.75,432.40 253.68,424.20 260.61,416.80 267.54,410.50 274.48,403.90 281.41,398.00 288.34,392.70 295.27,387.50 302.21,383.20 309.14,379.20 316.07,375.20 323.00,371.60 329.94,368.30 336.87,365.00 343.80,362.30"/>
<circle cx="66.50" cy="508.40" r="3.85" fill="#0000ff"/>
<circle cx="73.43" cy="508.40" r="3.85" fill="#0000ff"/>
<circle cx="80.36" cy="508.40" r="3.85" fill="#0000ff"/>
<circle cx="87.30" cy="508.40" r="3.85" fill="#0000ff"/>
<circle cx="94.23" cy="508.40" r="3.85" fill="#0000ff"/>
<circle cx="101.16" cy="508.40" r="3.85" fill="#0000ff"/>
<circle cx="108.09" cy="508.40" r="3.85" fill="#0000ff"/>
<circle cx="115.03" cy="508.40" r="3.85" fill="#0000ff"/>
<circle cx="121.96" cy="508.40" r="3.85" fill="#0000ff"/>
<circle cx="128.89" cy="508.40" r="3.85" fill="#0000ff"/>
<circle cx="135.82" cy="508.40" r="3.85" fill="#0000ff"/>
<circle cx="142.76" cy="508.40" r="3.85" fill="#0000ff"/>
<circle cx="149.69" cy="508.40" r="3.85" fill="#0000ff"/>
<circle cx="156.62" cy="508.40" r="3.85" fill="#0000ff"/>
<circle cx="163.56" cy="508.40" r="3.85" fill="#0000ff"/>
<circle cx="170.49" cy="508.40" r="3.85" fill="#0000ff"/>
<circle cx="177.42" cy="508.40" r="3.85" fill="#0000ff"/>
<circle cx="184.35" cy="508.40" r="3.85" fill="#0000ff"/>
<circle cx="191.29" cy="508.40" r="3.85" fill="#0000ff"/>
<circle cx="198.22" cy="508.40" r="3.85" fill="#0000ff"/>
<circle cx="205.15" cy="502.00" r="3.85" fill="#0000ff"/>
<circle cx="212.08" cy="487.20" r="3.85" fill="#0000ff"/>
<circle cx="219.02" cy="473.80" r="3.85" fill="#0000ff"/>
<circle cx="225.95" cy="461.30" r="3.85" fill="#0000ff"/>
<circle cx="232.88" cy="450.90" r="3.85" fill="#0000ff"/>
<circle cx="239.81" cy="441.40" r="3.85" fill="#0000ff"/>
<circle cx="246.75" cy="432.40" r="3.85" fill="#0000ff"/>
<circle cx="253.68" cy="424.20" r="3.85" fill="#0000ff"/>
<circle cx="260.61" cy="416.80" r="3.85" fill="#0000ff"/>
<circle cx="267.54" cy="410.50" r="3.85" fill="#0000ff"/>
<circle cx="274.48" cy="403.90" r="3.85" fill="#0000ff"/>
<circle cx="281.41" cy="398.00" r="3.85" fill="#0000ff"/>
<circle cx="288.34" cy="392.70" r="3.85" fill="#0000ff"/>
<circle cx="295.27" cy="387.50" r="3.85" fill="#0000ff"/>
<circle cx="302.21" cy="383.20" r="3.85" fill="#0000ff"/>
<circle cx="309.14" cy="379.20" r="3.85" fill="#0000ff"/>
<circle cx="316.07" cy="375.20" r="3.85" fill="#0000ff"/>
<circle cx="323.00" cy="371.60" r="3.85" fill="#0000ff"/>
<circle cx="329.94" cy="368.30" r="3.85" fill="#0000ff"/>
<circle cx="336.87" cy="365.00" r="3.85" fill="#0000ff"/>
<circle cx="343.80" cy="362.30" r="3.85" fill="#0000ff"/>
<line x1="66.8" y1="311.60" x2="95.7" y2="311.60" stroke="#000000" stroke-width="2"/>
<rect x="77.50" y="308.10" width="7.00" height="7.00" fill="#000000"/>
<text x="101.6" y="315.90" font-size="11.9" class="b">HG TFET</text>
<line x1="66.8" y1="326.80" x2="95.7" y2="326.80" stroke="#ff0000" stroke-width="2"/>
<polygon points="81.00,323.14 77.10,330.34 84.90,330.34" fill="#ff0000"/>
<text x="101.6" y="331.10" font-size="11.9" class="b">High-<tspan font-style="italic">k</tspan>-only TFET</text>
<line x1="66.8" y1="341.70" x2="95.7" y2="341.70" stroke="#0000ff" stroke-width="2"/>
<circle cx="81.00" cy="341.70" r="3.85" fill="#0000ff"/>
<text x="101.6" y="346.00" font-size="11.9" class="b">SiO2-only TFET</text>
<text y="502.00" font-size="11.8" class="b"><tspan x="297.2">V</tspan><tspan x="304.3" font-size="9.7" dy="4.5">D</tspan><tspan x="312.2" dy="-4.5">=</tspan><tspan x="322.1">0.7V</tspan></text>
<text x="2.6" y="308.00" font-size="19.4" class="b">b</text>
<g transform="translate(181.1,562.30) scale(1.065,1)"><text y="0" font-size="15.8" class="b"><tspan x="0">V</tspan><tspan x="10.4" dy="5.4" font-size="11.4">G</tspan><tspan x="23.5" dy="-5.4">[V]</tspan></text></g>
<g transform="translate(13.0,445.70) rotate(-90) scale(1,1.08)"><text font-size="15" class="b" y="0"><tspan x="-0.3">I</tspan><tspan x="3.9" dy="5.3" font-size="11.5">D</tspan><tspan x="17.8" dy="-5.3">[</tspan><tspan x="22.5">A</tspan><tspan x="40.3" font-size="17">µ</tspan><tspan x="50.2" font-size="17">m</tspan><tspan x="65.2">]</tspan></text><polygon points="33.8,0.1 35.9,0.1 40.3,-11 38.2,-11" fill="#000" stroke="#000" stroke-width="0.3"/></g>
</g>
</svg>
</body></html>
